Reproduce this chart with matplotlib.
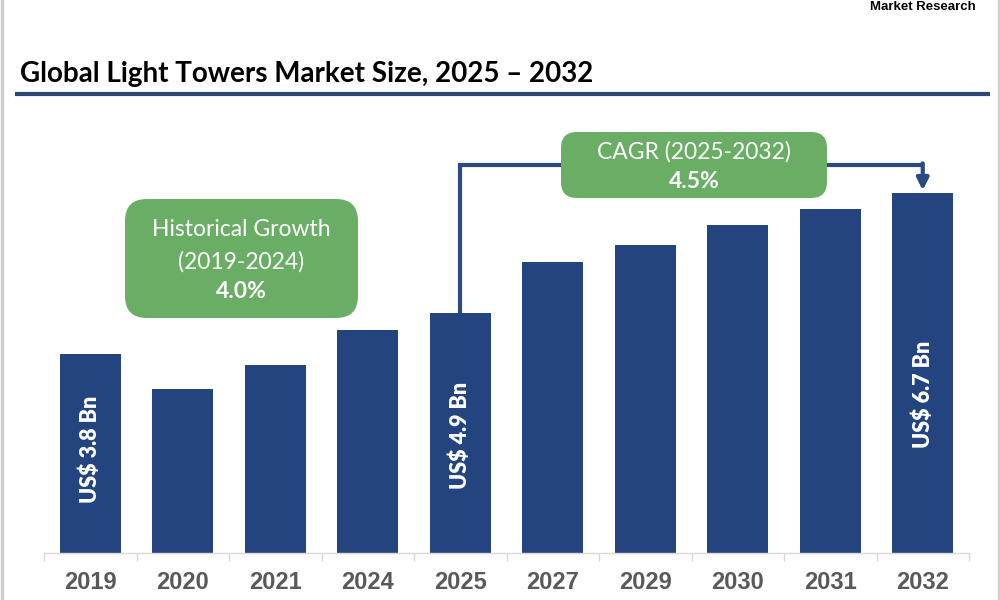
import matplotlib
matplotlib.use("Agg")
import matplotlib.pyplot as plt
from matplotlib.patches import FancyBboxPatch

# ---- data ----
years = ["2019", "2020", "2021", "2024", "2025", "2027", "2029", "2030", "2031", "2032"]
market_size = [3.70, 3.05, 3.50, 4.15, 4.47, 5.42, 5.73, 6.10, 6.40, 6.70]  # bar heights (US$ Bn scale)
label_years = ["2019", "2025", "2032"]
label_texts = ["US$ 3.8 Bn", "US$ 4.9 Bn", "US$ 6.7 Bn"]
hist_title = "Historical Growth"
hist_period = "(2019-2024)"
hist_rate = "4.0%"
cagr_title = "CAGR (2025-2032)"
cagr_rate = "4.5%"
chart_title = "Global Light Towers Market Size, 2025 \u2013 2032"
brand_text = "Market Research"

# ---- styles ----
BAR = "#24447f"
GREEN = "#6aae65"
LINE = "#2a4a86"
GRAY_TXT = "#595959"
AXIS_GRAY = "#d9d9d9"
label_frac = [0.52, 0.49, 0.44]

fig = plt.figure(figsize=(10, 6), dpi=100)
fig.patch.set_facecolor("white")

# main axes: x from 44px to 969px, baseline at y=553px, 53.73 px per unit
ax_left, ax_right = 44, 969
ax_bottom_px, ax_top_px = 553, 100
ppu = 53.73
ax = fig.add_axes([ax_left / 1000, (600 - ax_bottom_px) / 600,
                   (ax_right - ax_left) / 1000, (ax_bottom_px - ax_top_px) / 600])
ax.set_xlim(-0.5, len(years) - 0.5)
ax.set_ylim(0, (ax_bottom_px - ax_top_px) / ppu)

xs = list(range(len(years)))
ax.bar(xs, market_size, width=0.66, color=BAR, zorder=2)

for spine in ["top", "right", "left"]:
    ax.spines[spine].set_visible(False)
ax.spines["bottom"].set_color(AXIS_GRAY)
ax.spines["bottom"].set_linewidth(1.0)
ax.set_yticks([])
ax.set_xticks(xs)
ax.set_xticklabels(years, fontsize=17, fontweight="bold", color=GRAY_TXT,
                   family="Liberation Sans")
ax.tick_params(axis="x", which="major", length=0, pad=13)
ax.set_xticks([i - 0.5 for i in range(len(years) + 1)], minor=True)
ax.tick_params(axis="x", which="minor", length=6, color=AXIS_GRAY, width=1.0)

# rotated value labels
for yr, txt, f in zip(label_years, label_texts, label_frac):
    i = years.index(yr)
    ax.text(i, market_size[i] * f, txt, rotation=90, ha="center", va="center",
            color="white", fontsize=15.5, fontweight="heavy", family="Lato", zorder=3)

# connector line from 2025 bar to 2032 bar
i0 = years.index("2025")
i1 = years.index("2032")
y_line = (ax_bottom_px - 165) / ppu
ax.plot([i0, i0, i1], [market_size[i0], y_line, y_line], color=LINE, lw=3,
        solid_capstyle="butt", solid_joinstyle="miter", zorder=1)
ax.annotate("", xy=(i1, market_size[i1] + 0.05), xytext=(i1, y_line + 0.03),
            arrowprops=dict(arrowstyle="-|>,head_length=0.7,head_width=0.35",
                            color=LINE, lw=3, shrinkA=0, shrinkB=0), zorder=1)

# overlay axes in pixel coordinates for layout elements
ov = fig.add_axes([0, 0, 1, 1])
ov.set_xlim(0, 1000)
ov.set_ylim(600, 0)
ov.axis("off")
ov.patch.set_alpha(0)

# borders
ov.plot([1.5, 1.5], [0, 600], color="#cfcfcf", lw=2.5)
ov.plot([998.5, 998.5], [0, 600], color="#cfcfcf", lw=2.5)

# title + rule
ov.text(20, 82, chart_title, fontsize=20, fontweight="bold", family="Lato",
        color="black", ha="left", va="baseline")
ov.plot([15, 990], [93.5, 93.5], color="#2b4677", lw=3, solid_capstyle="butt")

# brand text (kept fully inside the picture)
ov.text(976, 1, brand_text, fontsize=9.5, fontweight="heavy", family="Liberation Sans",
        color="black", ha="right", va="top")

# historical growth box
hb = FancyBboxPatch((125, 199), 233, 119, boxstyle="round,pad=0,rounding_size=22",
                    fc=GREEN, ec="none", zorder=5)
ov.add_patch(hb)
ov.text(241.5, 229, hist_title, fontsize=16.5, family="Lato", color="white",
        ha="center", va="center", zorder=6)
ov.text(241.5, 262, hist_period, fontsize=16.5, family="Lato", color="white",
        ha="center", va="center", zorder=6)
ov.text(241.5, 291, hist_rate, fontsize=16.5, fontweight="bold", family="Lato",
        color="white", ha="center", va="center", zorder=6)

# CAGR box
cb = FancyBboxPatch((561, 132), 266, 66, boxstyle="round,pad=0,rounding_size=16",
                    fc=GREEN, ec="none", zorder=5)
ov.add_patch(cb)
ov.text(694, 152, cagr_title, fontsize=16.5, family="Lato", color="white",
        ha="center", va="center", zorder=6)
ov.text(694, 182, cagr_rate, fontsize=16.5, fontweight="bold", family="Lato",
        color="white", ha="center", va="center", zorder=6)

fig.savefig("out.png", dpi=100, facecolor="white")
